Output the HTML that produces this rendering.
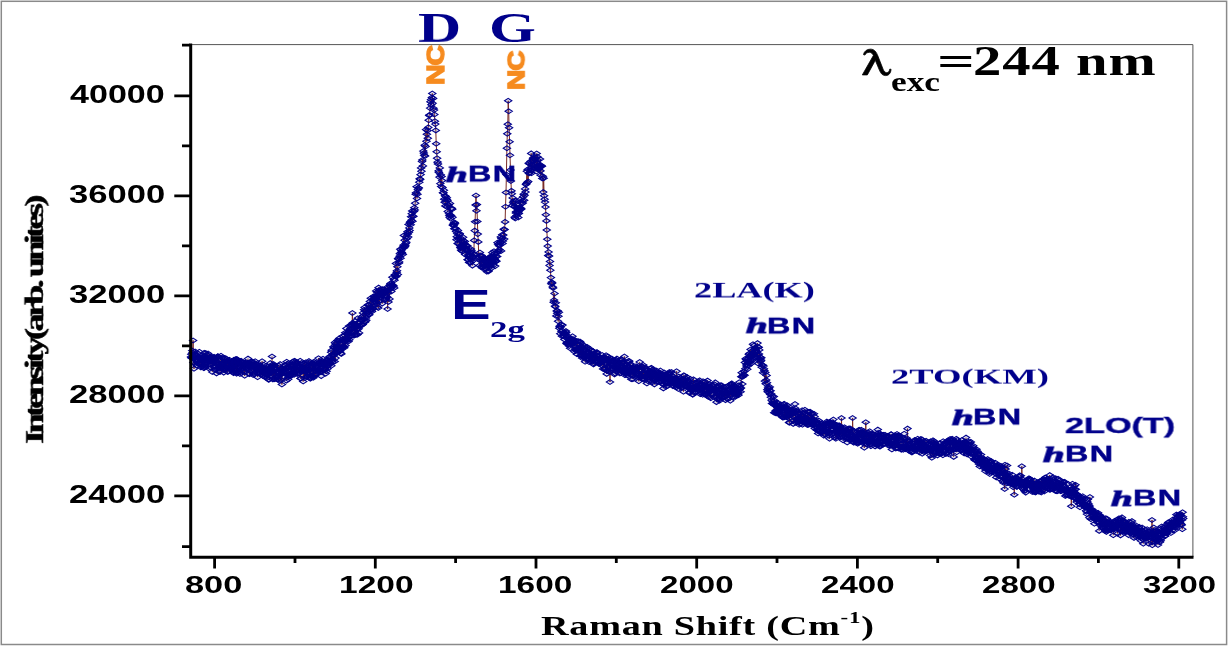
<!DOCTYPE html>
<html><head><meta charset="utf-8"><title>Raman spectrum</title>
<style>
html,body{margin:0;padding:0;background:#fff;}
body{width:1228px;height:646px;position:relative;overflow:hidden;font-family:"Liberation Sans",sans-serif;}
svg{position:absolute;left:0;top:0;}
.t{will-change:transform;position:absolute;white-space:nowrap;line-height:1;transform-origin:0 0;margin:0;padding:0;}
.sans{font-family:"Liberation Sans",sans-serif;font-weight:bold;}
.serif{font-family:"Liberation Serif",serif;font-weight:bold;}
.navy{color:#00008b;}
.blk{color:#000;}
.org{color:#f68b1f;}
</style></head><body>
<svg width="1228" height="646" viewBox="0 0 1228 646">
<rect x="0" y="0" width="1228" height="646" fill="#fff"/>
<!-- outer border -->
<rect x="1.3" y="1.3" width="1225.3" height="643.2" fill="none" stroke="#8a8a8a" stroke-width="1.5"/>
<!-- plot frame (top/right thin) -->
<path d="M190 44.6H1192.9V557" fill="none" stroke="#555" stroke-width="1"/>
<!-- data -->
<defs><marker id="d" markerUnits="userSpaceOnUse" markerWidth="10" markerHeight="8" refX="5" refY="4" orient="0">
<path d="M1.3 4L5 1.6L8.7 4L5 6.4z" fill="#00008b" fill-opacity="0.12" stroke="#00008b" stroke-width="1.05"/></marker></defs>
<path d="M192.8 357.3L193.1 340.5L193.4 362.4L193.7 355.7L194 368.8L194.3 356.6L194.6 354.8L194.9 364L195.2 351.5M197.3 365.5L197.6 353.4L197.9 363.3M200.6 357.3L200.9 367.4M201.8 366.5L202.1 357.5M203.3 365.1L203.6 356L203.9 368.3L204.2 352.9L204.5 367.4M205.4 363.5L205.7 353.1M208.1 353.5L208.4 368.1M210.8 356.3L211.1 367.7M212.3 372L212.6 361M216.2 361.1L216.5 373.4M218 356.3L218.3 367.5M219.8 360.3L220.1 372M220.7 368.3L221 355.7M223.4 362.2L223.7 372.6L224 362.7M224.9 358L225.2 369.9M227 361.3L227.3 371.8L227.6 361L227.9 372M233.6 373.1L233.9 359.9L234.2 371.4L234.5 360.4M235.4 359.3L235.7 369.1M236.3 359L236.6 373.7L236.9 372.9L237.2 359.2L237.5 372.1L237.8 360.2M241.1 360.7L241.4 369.7M243.8 362.4L244.1 372L244.4 365.6L244.7 375.8L245 366.3M247.7 368.8L248 358.6M248.9 373.4L249.2 363.1L249.5 374.3M252.8 361.8L253.1 374.9M257.3 364.6L257.6 377.2M261.8 370.8L262.1 361.3L262.4 374.4M266.6 365.7L266.9 377.9M269 379.6L269.3 369.4M269.9 373.8L270.2 363.1M272 356.5L272.3 370.6L272.6 367.3L272.9 379.4L273.2 366.4L273.5 364L273.8 377.9L274.1 365.9L274.4 365.4L274.7 379.3L275 369.8M278.6 375.6L278.9 365.7L279.2 380.7M280.1 364.1L280.4 374.5M281 369.4L281.3 380L281.6 374L281.9 384.5L282.2 373.4M286.4 380.6L286.7 361.7M288.2 379.2L288.5 363.2M291.2 365L291.5 375.8M293 361.5L293.3 372.7M294.2 374.8L294.5 360.7M295.4 372.3L295.7 361.5M296.6 372.7L296.9 362.4L297.2 374M300.2 360.7L300.5 378.4L300.8 378.5L301.1 368.2M302.9 369.2L303.2 381.5L303.5 371.3M304.4 363.6L304.7 378L305 364.8M305.6 372.1L305.9 362.2M306.8 376.6L307.1 367.4L307.4 376.6M308.6 373.7L308.9 361.1L309.2 362.5L309.5 378.3M311 375.9L311.3 365.9M312.8 362.7L313.1 376.7L313.4 377.7L313.7 364.9M314.6 364.4L314.9 374.4L315.2 375.7L315.5 362.7L315.8 374.2M318.2 369.6L318.5 358.2L318.8 370.2M325.4 364.1L325.7 373.6L326 360.8M326.6 371.3L326.9 359.6M330.8 363.7L331.1 352.2L331.4 365.8L331.7 350.3M333.2 355.7L333.5 346.6M334.4 347.8L334.7 361.5L335 342.4L335.3 343.9L335.6 358.1M337.7 343.1L338 352.2L338.3 340.9M339.5 340.7L339.8 350.7M340.7 343.7L341 353.2M342.2 347.2L342.5 336.3L342.8 346.6M344.3 347.8L344.6 335.3M345.2 332.8L345.5 345.5M346.1 340.5L346.4 328.5M348.5 341.5L348.8 331.6L349.1 326L349.4 339.7L349.7 329.7M351.5 335.9L351.8 324.3L352.1 325.5L352.4 313L352.7 328M353.9 335.6L354.2 326.4M354.8 335.1L355.1 324.1M357.5 334.6L357.8 318.2M362.7 324.6L363 312.9M363.7 319.3L364.1 309.8L364.5 307.5L364.8 322.3L365.1 311.2L365.4 321.2L365.7 310.2M368.4 305.1L368.7 314.6L369 304.9L369.3 314.8M370.5 307.5L370.8 298.3L371.1 309.2M372 311.4L372.3 299.5M373.2 306L373.5 296.4M375.9 301.5L376.2 290.9L376.5 304.5M377.1 292.1L377.4 307.1L377.7 295.7L378 291.9L378.3 308L378.6 287.6L378.9 301.4L379.2 290.1L379.5 301.2M381.9 294.4L382.2 303.6L382.5 289.5L382.8 289.3L383.1 298.6M387 296.9L387.3 287.2L387.6 309L387.9 290.7L388.2 292.9L388.5 301.9L388.8 287.8L389.1 289.9L389.5 298.9L389.8 285.7M395.6 276.4L396 263.5L396.3 276.6L396.7 272.2L397 270.8L397.4 266.7L397.8 274.6L398.1 258.4L398.5 259.1L398.8 263.2L399.2 261.9L399.6 256.3L399.9 253.8L400.3 249.2L400.6 258.2L401 252.4L401.4 250.7L401.7 252.6L402.1 253.3L402.4 248.4L402.8 254.5L403.2 246.9L403.5 245.2L403.9 235.5L404.2 247.7M408.2 237L408.6 224.4L408.9 232.2L409.3 227.9L409.6 230.6L410 222.7L410.4 221.7L410.7 224.8L411.1 216.7L411.4 220.2L411.8 213.8L412.2 211L412.5 221.2L413 216.4L413.4 216.3L413.9 211.4L414.3 207.8L414.8 210L415.2 203.3L415.7 194.3L416.1 192.7L416.6 186.7L417 198.4L417.5 194.2L417.9 189.7L418.4 187.7L418.8 188.1L419.3 182.3L419.7 178.7L420.2 179.4L420.6 174.6L421.1 167.9L421.5 171.3L422 161.5L422.4 160L422.9 165.9L423.3 151.1L423.8 153.1L424.2 155.3L424.7 145.3L425.1 155.9L425.6 146.5L426 129.6L426.5 141.3L426.9 134.3L427.4 130.6L427.8 138.2L428.3 127.4L428.7 120.2L429.2 115.5L429.6 114.9L430.1 108.1L430.5 101.8L431 99.6L431.4 104.8L431.9 97.5L432.3 93.5L432.6 103.2L433.1 98.4L433.5 108.2L434 110.1L434.4 114.5L434.9 121.3L435.3 124.1L435.8 130.4L436.2 143.8L436.7 151.7L437.1 158.2L437.6 162.1L438 163.9L438.5 171L438.9 172.4L439.4 177.1L439.8 167.9L440.3 183.6L440.7 174.8L441.2 186.5L441.6 176.5L442.1 180.6L442.5 187.6L443 192.8L443.4 192.9L443.9 190.3M445 195.8L445.3 206L445.7 196.6M447.5 200.3L447.8 211.4M449.6 217.1L450 203.4L450.4 215M457.2 233.6L457.6 243.5L457.9 230.4M459 243.9L459.4 234.4L459.7 233.6L460.1 245.8M461 250.1L461.3 238.4L461.6 250.8M462.5 251.5L462.8 241.7L463.1 237.3L463.4 247.4M464.9 241.5L465.2 254.5M467.3 245.7L467.6 259.6M470.6 262.6L470.9 249.1M472.4 265.6L472.7 256.5M473.3 257.4L473.8 254.4L474.2 240.4L474.7 230.6L475.1 221.7L475.6 205L476 195.5L476.5 210.8L476.9 204.6L477.4 221.5L477.8 234.1L478.3 241.9L478.7 257.3L479.2 260L479.6 265.5L479.9 252.5M480.8 256.3L481.1 266.6L481.4 256.5L481.7 255.6L482 266.9M485 268.8L485.3 259.5M486.8 271.6L487.1 261.7M488.6 270.7L488.9 257.6M490.1 267L490.4 256.6L490.7 265.8M491.3 268.3L491.6 259M493.7 262L494 251.3M497.2 256.5L497.5 242.6M500.8 237L501.1 250.9L501.5 238.5M502.9 241L503.3 235.1L503.7 229.2L504.2 239L504.6 229.6L505.1 221.9L505.5 206.7L506 192.5L506.4 174.6L506.9 148.2L507.3 133.8L507.8 124.2L508.2 100.8L508.7 111.2L509.1 127.8L509.6 141.8L510 155.3L510.5 170L510.9 181L511.4 190.9L511.8 193.7L512.3 205.5L512.7 197.9L513.2 202.8L513.6 201.2L514.1 206.6L514.4 203.3L514.7 217.2L515 206.3L515.3 218.5L515.6 200.5L515.9 213M520.2 199.5L520.6 209.4M522 203.6L522.4 200.5L522.8 203L523.3 196.8L523.7 194.3L524.2 200.3L524.6 195.3L525.1 188.9L525.5 192L526 184.5L526.4 183.7L526.9 171.2L527.3 182.5L527.8 169.4L528.2 181.5L528.7 163.2L529 173.5M530.8 168.1L531.2 153.4L531.5 173.3L531.9 164.2M532.8 169.2L533.1 158.3M534.3 158.9L534.6 168.6L534.9 159.3M536.4 171.5L536.7 153.5L537 162.8M537.6 159.9L537.9 168.9M540 159.1L540.4 170.9L540.7 175.2L541.1 166.3L541.4 165.5L541.9 166.2L542.3 178.4L542.8 176.3L543.2 192.1L543.7 178.3L544.1 195.7L544.6 199.2L545 202.1L545.5 207L545.9 214.7L546.4 220.9L546.8 230L547.3 239.3L547.7 246.1L548.2 255.5L548.6 252L549.1 256.1L549.5 265.5L550 261.5L550.4 270.2L550.9 277.6L551.3 283.7L551.8 282.2L552.2 283.1L552.7 286.9L553.1 287.9L553.6 302.3L554 300.1L554.5 293.5L554.9 306.1L555.4 306.7L555.8 302.7L556.3 316L556.7 310.9L557.2 313.3L557.6 310.7L558.1 321.2L558.5 316.3L558.9 312.2L559.3 328.2M566.2 332.4L566.5 343.2M574 341.9L574.3 351.6M577.3 351L577.6 341.2M580 341.6L580.3 355.5L580.6 342.8L580.9 355.4M581.5 346.4L581.8 355.8M582.7 356.2L583 344.9L583.3 354M584.8 351.1L585.1 361.7L585.4 349.7M586.3 358.6L586.6 348.5M589 362L589.3 348.7L589.6 359.2M590.8 361.6L591.1 350.6M591.7 350.3L592 361M593.2 351.4L593.5 364.4M597.1 352.2L597.4 362.1M602.8 358.2L603.1 368.9L603.4 358.1M604.3 357.3L604.6 368.2M606.1 355.3L606.4 370.4L606.7 373.9L607 364.4M607.6 366.6L607.9 356.5M608.8 371.6L609.1 359.4M609.7 358.1L610 382L610.3 361.2M614.8 373.3L615.1 361.6L615.4 359.8L615.7 369.1L616 359.9L616.3 371.6M619.6 364.3L619.9 373.5L620.2 359.8L620.5 370.8M621.7 359.4L622 369.9M622.6 371.9L622.9 361.7M624.1 372.4L624.4 356.5L624.7 367.4M626.8 372.7L627.1 362.1L627.4 375.4M630.7 364.1L631 374.9M632.5 367.6L632.8 379.1M638.2 377.1L638.5 367.5L638.8 381.3L639.1 370.6L639.4 375.1L639.7 362M641.5 376.4L641.8 366.6L642.1 379.1L642.4 366.8L642.7 378.9L643 367.1L643.3 365L643.6 374.4M647.8 370.1L648.1 381.3M649.9 377.9L650.2 368.5L650.5 380.8L650.8 371.5M652 370.2L652.3 382.3L652.6 373.2M654.1 372.3L654.4 384.4L654.7 374.7M656.2 381.9L656.5 370.6M660.4 370.5L660.7 381.2M663.4 388.4L663.7 376.2L664 384.6L664.3 372.5M668.5 373.3L668.8 382.6M671.5 372L671.8 381.1M673.3 385.5L673.6 376.4M676 377.9L676.3 387.4L676.6 371.3L676.9 383.2M678.4 389L678.7 376.6M680.5 378.1L680.8 387.6M683.5 391.8L683.8 375.3L684.1 384.5M689.8 392.4L690.1 378.7L690.4 389.5M692.8 394.8L693.1 384.1L693.4 379.4L693.7 388.5M698.2 381.2L698.5 390.5M699.4 390.5L699.7 380.4M702.7 394.7L703 381.3M704.8 394.1L705.1 381.8M706 394.5L706.3 385.4M707.2 393.4L707.5 380.6L707.8 384.5L708.1 396.8L708.4 386.4M709.6 384.3L709.9 397.2M710.5 387.6L710.8 398.2L711.1 388.1M714.1 397L714.4 384.4M716.2 388.9L716.5 402.1L716.8 391.8M719.2 386L719.5 400.7M721.6 385.2L721.9 395.8M724.9 397L725.2 387.9L725.5 400.1M730.3 400.7L730.6 390.9L730.9 395L731.2 384M731.8 383.4L732.1 393.3M733 387.6L733.3 397.1M741 388.1L741.3 376.8M744.6 375.3L744.9 362.4L745.3 368.6L745.7 358.6M748.5 365.6L748.8 354.2L749.1 363L749.4 353.5M750.3 360.4L750.6 349.5M751.2 363.4L751.5 354M754.2 345.5L754.5 357.5M757.2 357.5L757.5 343.1L757.8 354.6L758.1 363.5L758.4 347.2M759.3 349.9L759.6 359.4M761.4 357.8L761.7 367.2L762.1 365.2L762.6 365L763 372.7L763.5 366.1L763.9 368.7L764.4 370.5L764.8 381.1L765.3 372.4L765.7 383.8L766.2 380.1L766.6 375.4L767 382.8L767.3 389.7L767.7 391.8L768 387.1L768.4 388.8L768.8 388.5L769.1 392.8L769.5 390.8M773.8 396.6L774.2 412.7M774.9 400.7L775.2 412.1M776.7 412.7L777 402.6M782.1 407L782.4 417.1M784.2 403.8L784.5 417.3L784.8 406.9M786.9 417.2L787.2 405.3M789 422.4L789.3 407L789.6 422.8L789.9 410.5M792.9 413L793.2 423.9M793.8 409.6L794.1 420.4M795.6 410.5L795.9 422.7M798.6 412.5L798.9 422.2L799.2 424.7L799.5 413.8M800.1 423.7L800.4 413.4M802.2 410.2L802.5 424.8M803.1 412.8L803.4 422M804.9 409.8L805.2 422.8M807.3 425L807.6 411.7L807.9 424.7M808.5 412.3L808.8 424.8L809.1 411.9M810 421.2L810.3 411.9M810.9 413.9L811.2 424.6M811.8 413.4L812.1 422.6M814.5 416.6L814.8 428.4M818.4 429.6L818.7 420.6M823.8 435.6L824.1 424.8M824.7 424.7L825 434.7M828.3 433.3L828.6 423.9L828.9 435.8L829.2 422.4L829.5 438.7L829.8 422L830.1 432.8M833.4 419.5L833.7 432.7M835.8 438.7L836.1 427.9L836.4 436.4L836.7 425.1M839.4 425.9L839.7 436.9M841.2 429.3L841.5 418L841.8 435.9M848.4 428.6L848.7 438.6M849.9 428.4L850.2 440.1L850.5 429M852.3 438.8L852.6 418L852.9 430.3L853.2 441.9M853.8 442.8L854.1 431.1M857.7 443.8L858 433.5L858.3 440.6L858.6 430.4L858.9 442.6L859.2 429.8M864 433.8L864.3 447.8L864.6 433M865.5 434.5L865.8 422.3L866.1 441.3M867.6 433L867.9 442.2L868.2 432.4M869.7 431.3L870 444.5M877.2 445.4L877.5 433.2M879 432.9L879.3 443.5M883.2 444.5L883.5 434.9M888 435.9L888.3 445.5M890.7 445.1L891 434.2L891.3 434.3L891.6 443.7M894.6 435.7L894.9 445.2L895.2 435.3L895.5 448.5M896.7 448.2L897 434M898.2 435.7L898.5 448.4L898.8 435.2M900.9 439.8L901.2 449.6M903.3 449.7L903.6 438.5M906.6 448.8L906.9 438.3L907.2 448.7L907.5 428.6L907.8 440.9M914.7 440L915 449.1M917.7 438.8L918 448.1M919.2 441L919.5 452.5L919.8 441.8M920.7 439L921 448.3M921.9 439.4L922.2 453.8M926.1 440.8L926.4 451.1M930.3 455.4L930.6 441.2M931.8 457.8L932.1 448.6M932.7 451.6L933 440.4L933.3 455L933.6 445.9M937.5 455.4L937.8 445.5M942.9 455.2L943.2 441.3L943.5 450.3M945.6 444.4L945.9 453.9M946.5 453.1L946.8 442.5M948 440.6L948.3 452.6M949.5 441.1L949.8 450.4L950.1 439L950.4 450.6M952.2 438.8L952.5 449.3M953.4 442.5L953.7 456.9M956.4 438.8L956.7 452.3M963.9 442.4L964.2 453.5L964.5 441.8M965.7 451L966 437.6M968.7 441.9L969 452.8M970.5 453.7L970.8 441.9L971.1 453.6M974.1 450.1L974.4 459.1M978.6 453.6L978.9 463.9M987.6 459.1L987.9 470.5M989.7 474L990 461.6M991.2 471.5L991.5 461.2M996.3 477.4L996.6 465.4M999 467.5L999.3 478.6M1002.3 470.2L1002.6 480.9M1003.2 473.6L1003.5 482.8L1003.8 472.8M1004.4 473.6L1004.7 489L1005 464.8L1005.3 479.9L1005.6 469.1M1006.8 483.5L1007.1 465.5L1007.4 479.2M1008.6 482.9L1008.9 473.5M1012.2 474.8L1012.5 484.6M1014 484.4L1014.3 494.8L1014.6 479M1020.9 475.8L1021.2 486L1021.5 484.3L1021.8 466.3L1022.1 479.1M1024.2 481.7L1024.5 490.8L1024.8 481L1025.1 490.8M1034.1 490.9L1034.4 480.6L1034.7 489.7M1040.1 481.1L1040.4 491.8M1041.3 492.5L1041.6 480.4M1044 479.7L1044.3 491.5M1049.1 479.9L1049.4 489.7L1049.7 475.1L1050 488.6M1055.4 490.9L1055.7 478.2M1071 489.6L1071.3 506.2L1071.6 496M1075.2 498.1L1075.5 484.8L1075.8 489.3L1076.1 498.6M1089 506.5L1089.3 517.6L1089.6 506L1089.9 497L1090.2 512.5M1090.8 519.1L1091.1 509.9M1098 512.7L1098.3 522.4M1098.9 519.7L1099.2 530.9M1100.1 515.2L1100.4 525.4M1101.9 527.1L1102.2 517.4M1105.2 531L1105.5 518.2L1105.8 528.8M1106.4 531.9L1106.7 518.6M1113.3 535.2L1113.6 522.2M1117.2 519.6L1117.5 533.6M1120.2 523L1120.5 535.4L1120.8 525.4L1121.1 518.8L1121.4 531.3M1122 517.4L1122.3 530.8M1124.4 531.9L1124.7 521.3M1128.6 535.1L1128.9 521.9L1129.2 531.6M1130.7 533L1131 522.5M1133.7 527.8L1134 537.9L1134.3 526M1142.1 527.5L1142.4 538.7M1143.3 543.7L1143.6 532.2M1148.4 531.4L1148.7 543.7M1151.7 542.2L1152 520L1152.3 545.2L1152.6 533.1M1153.5 541.5L1153.8 527.5L1154.1 538.9M1155 530L1155.3 539.1M1156.2 531.4L1156.5 541.7M1157.7 531.7L1158 545M1160.4 531.3L1160.7 540.7L1161 538.8L1161.3 528.4M1164.6 527L1164.9 536M1172.4 530.2L1172.7 519.6M1176.3 514.6L1176.6 525.9M1182 519.9L1182.3 529.3L1182.6 512.3" fill="none" stroke="#7a2b25" stroke-width="1"/>
<polyline points="191,357 191.3,354.3 191.6,357.6 191.9,358.3 192.2,350.6 192.5,352.5 192.8,357.3 193.1,340.5 193.4,362.4 193.7,355.7 194,368.8 194.3,356.6 194.6,354.8 194.9,364 195.2,351.5 195.5,355.4 195.8,360 196.1,355 196.4,359.7 196.7,361 197,357.2 197.3,365.5 197.6,353.4 197.9,363.3 198.2,361.1 198.5,360.1 198.8,358.5 199.1,358.3 199.4,351.7 199.7,357.7 200,363.8 200.3,364.4 200.6,357.3 200.9,367.4 201.2,359.6 201.5,362.5 201.8,366.5 202.1,357.5 202.4,358.9 202.7,359.8 203,356.9 203.3,365.1 203.6,356 203.9,368.3 204.2,352.9 204.5,367.4 204.8,366.9 205.1,358.9 205.4,363.5 205.7,353.1 206,357.2 206.3,362.9 206.6,362.8 206.9,360.7 207.2,355 207.5,362.2 207.8,359.6 208.1,353.5 208.4,368.1 208.7,361.6 209,359.6 209.3,364.4 209.6,357.3 209.9,358 210.2,359.9 210.5,357.3 210.8,356.3 211.1,367.7 211.4,364.7 211.7,361.5 212,363.4 212.3,372 212.6,361 212.9,357 213.2,359.9 213.5,361.8 213.8,358.5 214.1,356.9 214.4,365.8 214.7,369.6 215,367.1 215.3,359.3 215.6,358.5 215.9,364 216.2,361.1 216.5,373.4 216.8,369.1 217.1,362.5 217.4,357.2 217.7,356.4 218,356.3 218.3,367.5 218.6,364.8 218.9,371.7 219.2,368.7 219.5,360.9 219.8,360.3 220.1,372 220.4,365.3 220.7,368.3 221,355.7 221.3,363.9 221.6,366.2 221.9,368.3 222.2,363.7 222.5,357.5 222.8,366.3 223.1,358.8 223.4,362.2 223.7,372.6 224,362.7 224.3,361.6 224.6,361.8 224.9,358 225.2,369.9 225.5,368.9 225.8,367.1 226.1,358.5 226.4,361.6 226.7,368.2 227,361.3 227.3,371.8 227.6,361 227.9,372 228.2,367 228.5,365.1 228.8,368.6 229.1,362 229.4,359.8 229.7,364.6 230,367.6 230.3,366 230.6,367.5 230.9,366.4 231.2,362.5 231.5,370.3 231.8,367.7 232.1,361.1 232.4,365.6 232.7,369.2 233,363.7 233.3,372.3 233.6,373.1 233.9,359.9 234.2,371.4 234.5,360.4 234.8,360.9 235.1,363.6 235.4,359.3 235.7,369.1 236,361.6 236.3,359 236.6,373.7 236.9,372.9 237.2,359.2 237.5,372.1 237.8,360.2 238.1,366 238.4,361.6 238.7,363.7 239,367.6 239.3,365.1 239.6,368.2 239.9,373.9 240.2,372.2 240.5,364 240.8,361.4 241.1,360.7 241.4,369.7 241.7,362.1 242,365.1 242.3,368.9 242.6,365 242.9,367.7 243.2,364.5 243.5,370.6 243.8,362.4 244.1,372 244.4,365.6 244.7,375.8 245,366.3 245.3,366 245.6,362.7 245.9,364.2 246.2,363.9 246.5,368.3 246.8,368.6 247.1,363 247.4,367.8 247.7,368.8 248,358.6 248.3,363.2 248.6,369.9 248.9,373.4 249.2,363.1 249.5,374.3 249.8,367.4 250.1,366.8 250.4,366.2 250.7,363.5 251,362 251.3,361.7 251.6,364.6 251.9,366.7 252.2,365.1 252.5,369.2 252.8,361.8 253.1,374.9 253.4,373 253.7,374 254,365.4 254.3,366.6 254.6,366.3 254.9,368.2 255.2,361.3 255.5,367.7 255.8,363.7 256.1,364.8 256.4,365.9 256.7,369.7 257,372.8 257.3,364.6 257.6,377.2 257.9,373.4 258.2,364.8 258.5,366.8 258.8,372.6 259.1,368.4 259.4,371.3 259.7,370.5 260,373.1 260.3,370.2 260.6,367.1 260.9,368.1 261.2,365.9 261.5,369.5 261.8,370.8 262.1,361.3 262.4,374.4 262.7,368.5 263,376 263.3,368.8 263.6,364.7 263.9,370.4 264.2,376.8 264.5,369.2 264.8,369.6 265.1,369.7 265.4,374.6 265.7,368.9 266,374.2 266.3,367.9 266.6,365.7 266.9,377.9 267.2,374 267.5,374.4 267.8,375.3 268.1,371.5 268.4,379.6 268.7,372.1 269,379.6 269.3,369.4 269.6,370.6 269.9,373.8 270.2,363.1 270.5,367.4 270.8,373.1 271.1,375.7 271.4,371.5 271.7,365.3 272,356.5 272.3,370.6 272.6,367.3 272.9,379.4 273.2,366.4 273.5,364 273.8,377.9 274.1,365.9 274.4,365.4 274.7,379.3 275,369.8 275.3,367.8 275.6,368.7 275.9,377.6 276.2,369.5 276.5,371.5 276.8,375.7 277.1,376.2 277.4,379.3 277.7,371.3 278,379.5 278.3,373.6 278.6,375.6 278.9,365.7 279.2,380.7 279.5,372.8 279.8,370 280.1,364.1 280.4,374.5 280.7,374.3 281,369.4 281.3,380 281.6,374 281.9,384.5 282.2,373.4 282.5,368.7 282.8,372.3 283.1,370.6 283.4,376.6 283.7,369.4 284,369.5 284.3,370.1 284.6,365.6 284.9,372.8 285.2,369.4 285.5,365.2 285.8,369 286.1,373.4 286.4,380.6 286.7,361.7 287,364.1 287.3,366.8 287.6,374.7 287.9,377.1 288.2,379.2 288.5,363.2 288.8,367.1 289.1,375.5 289.4,376.2 289.7,371.3 290,369.4 290.3,374.1 290.6,369.4 290.9,366.1 291.2,365 291.5,375.8 291.8,367 292.1,372 292.4,368.6 292.7,365.8 293,361.5 293.3,372.7 293.6,373 293.9,365.9 294.2,374.8 294.5,360.7 294.8,367.8 295.1,363.4 295.4,372.3 295.7,361.5 296,363.6 296.3,366.2 296.6,372.7 296.9,362.4 297.2,374 297.5,369.2 297.8,365.6 298.1,373.8 298.4,370.1 298.7,369.9 299,373.1 299.3,368 299.6,367.2 299.9,363.8 300.2,360.7 300.5,378.4 300.8,378.5 301.1,368.2 301.4,369.6 301.7,363 302,371.6 302.3,370.1 302.6,368.3 302.9,369.2 303.2,381.5 303.5,371.3 303.8,371.3 304.1,367.2 304.4,363.6 304.7,378 305,364.8 305.3,369 305.6,372.1 305.9,362.2 306.2,369.9 306.5,370.3 306.8,376.6 307.1,367.4 307.4,376.6 307.7,373.4 308,369 308.3,375.2 308.6,373.7 308.9,361.1 309.2,362.5 309.5,378.3 309.8,369.7 310.1,373.4 310.4,378.6 310.7,377.9 311,375.9 311.3,365.9 311.6,366.2 311.9,368.1 312.2,366.9 312.5,363.4 312.8,362.7 313.1,376.7 313.4,377.7 313.7,364.9 314,361.8 314.3,370 314.6,364.4 314.9,374.4 315.2,375.7 315.5,362.7 315.8,374.2 316.1,371 316.4,373.7 316.7,367.9 317,367.1 317.3,365.3 317.6,370.5 317.9,365.5 318.2,369.6 318.5,358.2 318.8,370.2 319.1,370.7 319.4,362 319.7,365.2 320,370.5 320.3,363.9 320.6,371.4 320.9,372.2 321.2,376.1 321.5,371 321.8,362.8 322.1,364.1 322.4,361.3 322.7,361.2 323,358.7 323.3,365.3 323.6,365.1 323.9,370.7 324.2,362.1 324.5,368.1 324.8,369 325.1,369.2 325.4,364.1 325.7,373.6 326,360.8 326.3,362.8 326.6,371.3 326.9,359.6 327.2,366.6 327.5,368.7 327.8,362.4 328.1,365.3 328.4,361.3 328.7,362.2 329,363.5 329.3,361.5 329.6,356.9 329.9,356.4 330.2,360.2 330.5,357.9 330.8,363.7 331.1,352.2 331.4,365.8 331.7,350.3 332,358.7 332.3,360.6 332.6,362 332.9,354.5 333.2,355.7 333.5,346.6 333.8,347.8 334.1,353.3 334.4,347.8 334.7,361.5 335,342.4 335.3,343.9 335.6,358.1 335.9,353.5 336.2,351.4 336.5,353.3 336.8,347.3 337.1,346.4 337.4,340.4 337.7,343.1 338,352.2 338.3,340.9 338.6,347.8 338.9,346.6 339.2,338.4 339.5,340.7 339.8,350.7 340.1,350.9 340.4,347.5 340.7,343.7 341,353.2 341.3,353.9 341.6,347.2 341.9,348.4 342.2,347.2 342.5,336.3 342.8,346.6 343.1,339 343.4,347.1 343.7,341.4 344,346.3 344.3,347.8 344.6,335.3 344.9,339.2 345.2,332.8 345.5,345.5 345.8,341.4 346.1,340.5 346.4,328.5 346.7,333.9 347,338.5 347.3,339.9 347.6,332.7 347.9,333.1 348.2,337.8 348.5,341.5 348.8,331.6 349.1,326 349.4,339.7 349.7,329.7 350,336.4 350.3,333.1 350.6,328.6 350.9,325.3 351.2,329 351.5,335.9 351.8,324.3 352.1,325.5 352.4,313 352.7,328 353,322.8 353.3,323.6 353.6,329.9 353.9,335.6 354.2,326.4 354.5,332.2 354.8,335.1 355.1,324.1 355.4,321 355.7,325.3 356,326.9 356.3,334.8 356.6,326.8 356.9,329.9 357.2,328.6 357.5,334.6 357.8,318.2 358.1,323.1 358.4,322.9 358.7,328.8 359.1,332.9 359.4,325.8 359.8,322.7 360.1,325.9 360.5,319.6 360.9,320.3 361.2,324.9 361.6,317.1 361.9,319.6 362.3,324.6 362.7,324.6 363,312.9 363.4,315.5 363.7,319.3 364.1,309.8 364.5,307.5 364.8,322.3 365.1,311.2 365.4,321.2 365.7,310.2 366,318 366.3,320.2 366.6,313.2 366.9,315.8 367.2,313 367.5,313.4 367.8,309.4 368.1,304.7 368.4,305.1 368.7,314.6 369,304.9 369.3,314.8 369.6,306.2 369.9,301.5 370.2,307.6 370.5,307.5 370.8,298.3 371.1,309.2 371.4,310.5 371.7,309.6 372,311.4 372.3,299.5 372.6,302.3 372.9,308.5 373.2,306 373.5,296.4 373.8,299.3 374.1,299.7 374.4,298.4 374.7,297.9 375,297.3 375.3,295.9 375.6,302.5 375.9,301.5 376.2,290.9 376.5,304.5 376.8,296.1 377.1,292.1 377.4,307.1 377.7,295.7 378,291.9 378.3,308 378.6,287.6 378.9,301.4 379.2,290.1 379.5,301.2 379.8,294.4 380.1,291.1 380.4,297.3 380.7,297.2 381,289.8 381.3,295.4 381.6,294.8 381.9,294.4 382.2,303.6 382.5,289.5 382.8,289.3 383.1,298.6 383.4,293.3 383.7,292.1 384,294.3 384.3,292 384.6,290.8 384.9,299.6 385.2,295.8 385.5,291.2 385.8,296.3 386.1,292.3 386.4,299 386.7,291.9 387,296.9 387.3,287.2 387.6,309 387.9,290.7 388.2,292.9 388.5,301.9 388.8,287.8 389.1,289.9 389.5,298.9 389.8,285.7 390.2,284.2 390.6,283.4 390.9,288.2 391.3,291.4 391.6,285.5 392,284.6 392.4,277.3 392.7,285.5 393.1,285.6 393.4,286.1 393.8,279.3 394.2,287.9 394.5,280.2 394.9,274.8 395.2,275.4 395.6,276.4 396,263.5 396.3,276.6 396.7,272.2 397,270.8 397.4,266.7 397.8,274.6 398.1,258.4 398.5,259.1 398.8,263.2 399.2,261.9 399.6,256.3 399.9,253.8 400.3,249.2 400.6,258.2 401,252.4 401.4,250.7 401.7,252.6 402.1,253.3 402.4,248.4 402.8,254.5 403.2,246.9 403.5,245.2 403.9,235.5 404.2,247.7 404.6,240.2 405,246.6 405.3,245.2 405.7,243.4 406,236.8 406.4,242.2 406.8,238.7 407.1,233.7 407.5,231.6 407.8,234.1 408.2,237 408.6,224.4 408.9,232.2 409.3,227.9 409.6,230.6 410,222.7 410.4,221.7 410.7,224.8 411.1,216.7 411.4,220.2 411.8,213.8 412.2,211 412.5,221.2 413,216.4 413.4,216.3 413.9,211.4 414.3,207.8 414.8,210 415.2,203.3 415.7,194.3 416.1,192.7 416.6,186.7 417,198.4 417.5,194.2 417.9,189.7 418.4,187.7 418.8,188.1 419.3,182.3 419.7,178.7 420.2,179.4 420.6,174.6 421.1,167.9 421.5,171.3 422,161.5 422.4,160 422.9,165.9 423.3,151.1 423.8,153.1 424.2,155.3 424.7,145.3 425.1,155.9 425.6,146.5 426,129.6 426.5,141.3 426.9,134.3 427.4,130.6 427.8,138.2 428.3,127.4 428.7,120.2 429.2,115.5 429.6,114.9 430.1,108.1 430.5,101.8 431,99.6 431.4,104.8 431.9,97.5 432.3,93.5 432.6,103.2 433.1,98.4 433.5,108.2 434,110.1 434.4,114.5 434.9,121.3 435.3,124.1 435.8,130.4 436.2,143.8 436.7,151.7 437.1,158.2 437.6,162.1 438,163.9 438.5,171 438.9,172.4 439.4,177.1 439.8,167.9 440.3,183.6 440.7,174.8 441.2,186.5 441.6,176.5 442.1,180.6 442.5,187.6 443,192.8 443.4,192.9 443.9,190.3 444.2,199.3 444.6,202.3 445,195.8 445.3,206 445.7,196.6 446,202 446.4,199.4 446.8,197.8 447.1,206.7 447.5,200.3 447.8,211.4 448.2,205.3 448.6,204.8 448.9,213.1 449.3,215.2 449.6,217.1 450,203.4 450.4,215 450.7,218.7 451.1,215.8 451.4,208.8 451.8,208.2 452.2,209.3 452.5,217.2 452.9,225.3 453.2,224.3 453.6,225.4 454,223 454.3,228.8 454.7,222.5 455,223.8 455.4,228.2 455.8,228.5 456.1,231.5 456.5,239.6 456.8,236.8 457.2,233.6 457.6,243.5 457.9,230.4 458.3,237.7 458.6,239.3 459,243.9 459.4,234.4 459.7,233.6 460.1,245.8 460.4,247.8 460.7,247.5 461,250.1 461.3,238.4 461.6,250.8 461.9,247.6 462.2,245.5 462.5,251.5 462.8,241.7 463.1,237.3 463.4,247.4 463.7,240.7 464,244.2 464.3,243.6 464.6,244 464.9,241.5 465.2,254.5 465.5,247.4 465.8,248.8 466.1,245.5 466.4,245.9 466.7,250.6 467,249.4 467.3,245.7 467.6,259.6 467.9,256.2 468.2,259.8 468.5,254.6 468.8,255.6 469.1,262.4 469.4,258 469.7,252.8 470,255.2 470.3,262.6 470.6,262.6 470.9,249.1 471.2,252.4 471.5,250.8 471.8,259.1 472.1,261.3 472.4,265.6 472.7,256.5 473,253 473.3,257.4 473.8,254.4 474.2,240.4 474.7,230.6 475.1,221.7 475.6,205 476,195.5 476.5,210.8 476.9,204.6 477.4,221.5 477.8,234.1 478.3,241.9 478.7,257.3 479.2,260 479.6,265.5 479.9,252.5 480.2,255.5 480.5,260.3 480.8,256.3 481.1,266.6 481.4,256.5 481.7,255.6 482,266.9 482.3,267.9 482.6,260.3 482.9,260.2 483.2,262.4 483.5,259.7 483.8,266.1 484.1,266 484.4,258.1 484.7,265.5 485,268.8 485.3,259.5 485.6,261.7 485.9,268.8 486.2,265.8 486.5,263.3 486.8,271.6 487.1,261.7 487.4,259.4 487.7,265.2 488,263.1 488.3,271.4 488.6,270.7 488.9,257.6 489.2,262.5 489.5,265.5 489.8,262.6 490.1,267 490.4,256.6 490.7,265.8 491,260.9 491.3,268.3 491.6,259 491.9,256.7 492.2,252.6 492.5,256.7 492.8,261.4 493.1,257.1 493.4,265.2 493.7,262 494,251.3 494.3,258.4 494.6,253.2 494.9,259.6 495.2,266.1 495.5,261.5 495.8,256.4 496.1,261 496.4,261.3 496.8,253.3 497.2,256.5 497.5,242.6 497.9,251.5 498.2,244.2 498.6,251.1 499,245.8 499.3,249.6 499.7,244.8 500,242.2 500.4,242.9 500.8,237 501.1,250.9 501.5,238.5 501.8,238.6 502.2,234.7 502.6,243.5 502.9,241 503.3,235.1 503.7,229.2 504.2,239 504.6,229.6 505.1,221.9 505.5,206.7 506,192.5 506.4,174.6 506.9,148.2 507.3,133.8 507.8,124.2 508.2,100.8 508.7,111.2 509.1,127.8 509.6,141.8 510,155.3 510.5,170 510.9,181 511.4,190.9 511.8,193.7 512.3,205.5 512.7,197.9 513.2,202.8 513.6,201.2 514.1,206.6 514.4,203.3 514.7,217.2 515,206.3 515.3,218.5 515.6,200.5 515.9,213 516.2,211.8 516.5,215.8 516.8,207.5 517.1,208 517.4,212 517.7,209.1 518,213.1 518.3,217.5 518.6,211.7 518.9,213.5 519.2,207.5 519.5,207.2 519.8,208.3 520.2,199.5 520.6,209.4 520.9,208.2 521.3,208.9 521.6,202.3 522,203.6 522.4,200.5 522.8,203 523.3,196.8 523.7,194.3 524.2,200.3 524.6,195.3 525.1,188.9 525.5,192 526,184.5 526.4,183.7 526.9,171.2 527.3,182.5 527.8,169.4 528.2,181.5 528.7,163.2 529,173.5 529.4,172.6 529.7,164 530.1,170.1 530.5,161.4 530.8,168.1 531.2,153.4 531.5,173.3 531.9,164.2 532.2,165.5 532.5,160.5 532.8,169.2 533.1,158.3 533.4,158 533.7,160.3 534,158.6 534.3,158.9 534.6,168.6 534.9,159.3 535.2,157.2 535.5,164.9 535.8,168.4 536.1,162.7 536.4,171.5 536.7,153.5 537,162.8 537.3,156.8 537.6,159.9 537.9,168.9 538.2,168.5 538.5,165.5 538.8,166.8 539.1,168.9 539.4,167.4 539.7,165.9 540,159.1 540.4,170.9 540.7,175.2 541.1,166.3 541.4,165.5 541.9,166.2 542.3,178.4 542.8,176.3 543.2,192.1 543.7,178.3 544.1,195.7 544.6,199.2 545,202.1 545.5,207 545.9,214.7 546.4,220.9 546.8,230 547.3,239.3 547.7,246.1 548.2,255.5 548.6,252 549.1,256.1 549.5,265.5 550,261.5 550.4,270.2 550.9,277.6 551.3,283.7 551.8,282.2 552.2,283.1 552.7,286.9 553.1,287.9 553.6,302.3 554,300.1 554.5,293.5 554.9,306.1 555.4,306.7 555.8,302.7 556.3,316 556.7,310.9 557.2,313.3 557.6,310.7 558.1,321.2 558.5,316.3 558.9,312.2 559.3,328.2 559.6,326.2 560,326.7 560.3,333.7 560.7,327 561.1,324.6 561.4,331.2 561.8,336.1 562.1,330.4 562.5,325.1 562.9,332.7 563.2,335.4 563.5,336.2 563.8,333.9 564.1,333.7 564.4,339.4 564.7,332.7 565,333.5 565.3,335 565.6,334.3 565.9,331.1 566.2,332.4 566.5,343.2 566.8,343.7 567.1,343 567.4,342.8 567.7,338.1 568,344.6 568.3,339.5 568.6,336.7 568.9,342.4 569.2,346 569.5,338.8 569.8,339.9 570.1,348.3 570.4,344 570.7,339.1 571,342.4 571.3,342.7 571.6,339.1 571.9,339.8 572.2,344.1 572.5,336.3 572.8,343.1 573.1,343.1 573.4,341.4 573.7,339.2 574,341.9 574.3,351.6 574.6,346.1 574.9,340.6 575.2,349 575.5,347.2 575.8,350.6 576.1,349.6 576.4,349.2 576.7,349.6 577,354.3 577.3,351 577.6,341.2 577.9,344.3 578.2,348.8 578.5,341.4 578.8,347.7 579.1,351.1 579.4,344.9 579.7,348.3 580,341.6 580.3,355.5 580.6,342.8 580.9,355.4 581.2,347.3 581.5,346.4 581.8,355.8 582.1,358 582.4,352.1 582.7,356.2 583,344.9 583.3,354 583.6,357.4 583.9,357.4 584.2,349.5 584.5,346.1 584.8,351.1 585.1,361.7 585.4,349.7 585.7,356.9 586,352.8 586.3,358.6 586.6,348.5 586.9,346.7 587.2,351.9 587.5,354.1 587.8,359.5 588.1,351.3 588.4,356.8 588.7,360 589,362 589.3,348.7 589.6,359.2 589.9,356.5 590.2,356.9 590.5,353.8 590.8,361.6 591.1,350.6 591.4,354.4 591.7,350.3 592,361 592.3,357.7 592.6,357.9 592.9,355.8 593.2,351.4 593.5,364.4 593.8,359.8 594.1,363.5 594.4,357.5 594.7,358.3 595,354 595.3,362.3 595.6,362.2 595.9,360.8 596.2,355.5 596.5,353.1 596.8,352.2 597.1,352.2 597.4,362.1 597.7,355.8 598,359 598.3,359 598.6,361.1 598.9,356.3 599.2,364.1 599.5,359.4 599.8,362.9 600.1,363.7 600.4,362.3 600.7,359.5 601,358.2 601.3,365.1 601.6,358.2 601.9,361.5 602.2,355 602.5,362.1 602.8,358.2 603.1,368.9 603.4,358.1 603.7,357.9 604,359.1 604.3,357.3 604.6,368.2 604.9,369.2 605.2,363.6 605.5,363 605.8,358.6 606.1,355.3 606.4,370.4 606.7,373.9 607,364.4 607.3,371 607.6,366.6 607.9,356.5 608.2,361.7 608.5,365.8 608.8,371.6 609.1,359.4 609.4,367 609.7,358.1 610,382 610.3,361.2 610.6,363.2 610.9,361.8 611.2,370 611.5,361.1 611.8,358.6 612.1,365.8 612.4,368.7 612.7,360.9 613,365.3 613.3,368.8 613.6,361 613.9,366.8 614.2,366.8 614.5,374.4 614.8,373.3 615.1,361.6 615.4,359.8 615.7,369.1 616,359.9 616.3,371.6 616.6,365.2 616.9,358.6 617.2,362.9 617.5,365.4 617.8,370.3 618.1,367.4 618.4,370 618.7,362.2 619,368.5 619.3,369.9 619.6,364.3 619.9,373.5 620.2,359.8 620.5,370.8 620.8,373 621.1,364.9 621.4,362.6 621.7,359.4 622,369.9 622.3,363.3 622.6,371.9 622.9,361.7 623.2,369.7 623.5,368.9 623.8,371.8 624.1,372.4 624.4,356.5 624.7,367.4 625,375.2 625.3,373.6 625.6,372.9 625.9,368.9 626.2,365.2 626.5,369.7 626.8,372.7 627.1,362.1 627.4,375.4 627.7,371.3 628,367.3 628.3,366.7 628.6,366.1 628.9,360.7 629.2,361.8 629.5,369.4 629.8,364.5 630.1,371.6 630.4,371.3 630.7,364.1 631,374.9 631.3,379.3 631.6,374.2 631.9,375.6 632.2,369 632.5,367.6 632.8,379.1 633.1,375.6 633.4,372.4 633.7,370.8 634,368.5 634.3,370.8 634.6,369.1 634.9,371 635.2,369.1 635.5,367.8 635.8,368.2 636.1,366.2 636.4,369 636.7,372 637,366.9 637.3,367.7 637.6,375.7 637.9,375.2 638.2,377.1 638.5,367.5 638.8,381.3 639.1,370.6 639.4,375.1 639.7,362 640,369.9 640.3,370.5 640.6,369.7 640.9,376 641.2,370.9 641.5,376.4 641.8,366.6 642.1,379.1 642.4,366.8 642.7,378.9 643,367.1 643.3,365 643.6,374.4 643.9,379.7 644.2,378.8 644.5,373 644.8,373.3 645.1,367.2 645.4,375.9 645.7,368.8 646,370.7 646.3,378.3 646.6,375.4 646.9,383.5 647.2,378.2 647.5,373 647.8,370.1 648.1,381.3 648.4,375.5 648.7,372.7 649,375.3 649.3,374.3 649.6,374.4 649.9,377.9 650.2,368.5 650.5,380.8 650.8,371.5 651.1,376.3 651.4,367.9 651.7,372.7 652,370.2 652.3,382.3 652.6,373.2 652.9,369.4 653.2,375.9 653.5,378.3 653.8,378.2 654.1,372.3 654.4,384.4 654.7,374.7 655,372.9 655.3,379.3 655.6,373.7 655.9,378.2 656.2,381.9 656.5,370.6 656.8,377.3 657.1,375.3 657.4,376.5 657.7,379.5 658,375.5 658.3,372.6 658.6,377.2 658.9,373.9 659.2,381.9 659.5,375.4 659.8,377.6 660.1,375 660.4,370.5 660.7,381.2 661,373.3 661.3,378 661.6,379 661.9,376 662.2,383.5 662.5,375.1 662.8,380.1 663.1,384.4 663.4,388.4 663.7,376.2 664,384.6 664.3,372.5 664.6,380.8 664.9,374.4 665.2,375.6 665.5,379.2 665.8,382.1 666.1,386.7 666.4,383 666.7,383.9 667,375.9 667.3,378.4 667.6,386 667.9,377.5 668.2,378.4 668.5,373.3 668.8,382.6 669.1,374.6 669.4,372 669.7,373.1 670,377.9 670.3,380.4 670.6,382.3 670.9,377.8 671.2,375.9 671.5,372 671.8,381.1 672.1,381.9 672.4,382.9 672.7,378.2 673,386.3 673.3,385.5 673.6,376.4 673.9,382 674.2,379.3 674.5,384.7 674.8,380.6 675.1,384.3 675.4,382.3 675.7,380 676,377.9 676.3,387.4 676.6,371.3 676.9,383.2 677.2,385.5 677.5,379.8 677.8,385.6 678.1,384.3 678.4,389 678.7,376.6 679,378.5 679.3,383.6 679.6,385.9 679.9,384 680.2,386.3 680.5,378.1 680.8,387.6 681.1,382.5 681.4,380.5 681.7,382.7 682,387.7 682.3,380.2 682.6,379.5 682.9,380.4 683.2,383.7 683.5,391.8 683.8,375.3 684.1,384.5 684.4,375.8 684.7,379.7 685,383.5 685.3,386.4 685.6,378.8 685.9,386.6 686.2,384.1 686.5,385.7 686.8,376.9 687.1,385.8 687.4,383.6 687.7,382.5 688,380.6 688.3,380.8 688.6,380.9 688.9,388.3 689.2,384.1 689.5,392.9 689.8,392.4 690.1,378.7 690.4,389.5 690.7,386.7 691,385.1 691.3,388.7 691.6,390.6 691.9,389.5 692.2,389.3 692.5,394.4 692.8,394.8 693.1,384.1 693.4,379.4 693.7,388.5 694,388.6 694.3,392.4 694.6,387.8 694.9,382.7 695.2,386.9 695.5,388.6 695.8,385.7 696.1,388.9 696.4,387.8 696.7,389.2 697,389 697.3,391.3 697.6,382.8 697.9,382.3 698.2,381.2 698.5,390.5 698.8,389.9 699.1,390 699.4,390.5 699.7,380.4 700,388.5 700.3,394.2 700.6,389.8 700.9,383.2 701.2,384.9 701.5,385.6 701.8,393.2 702.1,387.9 702.4,386.1 702.7,394.7 703,381.3 703.3,387 703.6,387.8 703.9,385.4 704.2,387.1 704.5,394.3 704.8,394.1 705.1,381.8 705.4,390.1 705.7,389.1 706,394.5 706.3,385.4 706.6,386.7 706.9,390.7 707.2,393.4 707.5,380.6 707.8,384.5 708.1,396.8 708.4,386.4 708.7,391.7 709,388.2 709.3,391.2 709.6,384.3 709.9,397.2 710.2,389.7 710.5,387.6 710.8,398.2 711.1,388.1 711.4,394.3 711.7,393.2 712,393.6 712.3,385.2 712.6,385.4 712.9,390.5 713.2,388.4 713.5,394.4 713.8,389.7 714.1,397 714.4,384.4 714.7,388.5 715,390.6 715.3,382.4 715.6,391 715.9,396.7 716.2,388.9 716.5,402.1 716.8,391.8 717.1,386.8 717.4,394.5 717.7,399.5 718,398.1 718.3,392.4 718.6,386.9 718.9,392.2 719.2,386 719.5,400.7 719.8,399.1 720.1,393.1 720.4,385.3 720.7,388.8 721,396.3 721.3,388.8 721.6,385.2 721.9,395.8 722.2,398.2 722.5,393.7 722.8,393.3 723.1,387 723.4,393.3 723.7,389 724,390.9 724.3,390.5 724.6,397.1 724.9,397 725.2,387.9 725.5,400.1 725.8,395.3 726.1,386.8 726.4,393.9 726.7,392.3 727,392.9 727.3,390.2 727.6,399.2 727.9,393.4 728.2,398.8 728.5,393.6 728.8,393 729.1,389.5 729.4,388.7 729.7,384.8 730,391.9 730.3,400.7 730.6,390.9 730.9,395 731.2,384 731.5,384.8 731.8,383.4 732.1,393.3 732.4,387.3 732.7,392.6 733,387.6 733.3,397.1 733.6,388.6 733.9,389.3 734.2,385.2 734.5,391.8 734.8,389.9 735.1,397 735.4,394.4 735.7,387.1 736,396 736.3,392.4 736.6,390 736.9,393.7 737.2,390.4 737.5,388.6 737.8,394.2 738.1,392.7 738.4,395.1 738.7,391 739,385.2 739.3,382.2 739.6,389.4 739.9,386.9 740.3,388.3 740.6,391.8 741,388.1 741.3,376.8 741.7,372.8 742.1,376.7 742.4,384 742.8,376.8 743.1,375.5 743.5,374.5 743.9,371.2 744.2,371.6 744.6,375.3 744.9,362.4 745.3,368.6 745.7,358.6 746,359.6 746.4,365.9 746.7,364.5 747,361.3 747.3,369.2 747.6,363.3 747.9,359.1 748.2,360.6 748.5,365.6 748.8,354.2 749.1,363 749.4,353.5 749.7,361.5 750,355.9 750.3,360.4 750.6,349.5 750.9,355.9 751.2,363.4 751.5,354 751.8,356.4 752.1,360.6 752.4,354.2 752.7,350.5 753,344.3 753.3,352.5 753.6,355.9 753.9,353.6 754.2,345.5 754.5,357.5 754.8,349.1 755.1,348.2 755.4,350.5 755.7,347.8 756,350.7 756.3,356.2 756.6,352 756.9,354.8 757.2,357.5 757.5,343.1 757.8,354.6 758.1,363.5 758.4,347.2 758.7,347.3 759,354 759.3,349.9 759.6,359.4 759.9,358.5 760.2,361.7 760.5,357.2 760.8,360 761.1,360.7 761.4,357.8 761.7,367.2 762.1,365.2 762.6,365 763,372.7 763.5,366.1 763.9,368.7 764.4,370.5 764.8,381.1 765.3,372.4 765.7,383.8 766.2,380.1 766.6,375.4 767,382.8 767.3,389.7 767.7,391.8 768,387.1 768.4,388.8 768.8,388.5 769.1,392.8 769.5,390.8 769.8,386.9 770.2,394.4 770.6,390.7 770.9,397.3 771.3,394.1 771.6,400.1 772,403.5 772.4,396.2 772.7,401.6 773.1,403.5 773.4,404.1 773.8,396.6 774.2,412.7 774.5,405.1 774.9,400.7 775.2,412.1 775.5,403.7 775.8,410.5 776.1,413.4 776.4,404.9 776.7,412.7 777,402.6 777.3,407.6 777.6,410.1 777.9,407 778.2,405.9 778.5,412.6 778.8,413.4 779.1,410.4 779.4,408.3 779.7,414.8 780,414.2 780.3,412.2 780.6,404.2 780.9,408.6 781.2,410 781.5,416 781.8,408.1 782.1,407 782.4,417.1 782.7,408.8 783,417.6 783.3,411 783.6,404.5 783.9,408.2 784.2,403.8 784.5,417.3 784.8,406.9 785.1,408.2 785.4,413.6 785.7,415.5 786,409.9 786.3,416.5 786.6,417.2 786.9,417.2 787.2,405.3 787.5,408 787.8,415.1 788.1,409.9 788.4,412.9 788.7,418.1 789,422.4 789.3,407 789.6,422.8 789.9,410.5 790.2,412.5 790.5,410.9 790.8,413.2 791.1,413.7 791.4,410.4 791.7,411.5 792,410.4 792.3,410.5 792.6,414.1 792.9,413 793.2,423.9 793.5,416.5 793.8,409.6 794.1,420.4 794.4,417.2 794.7,412.4 795,404 795.3,408.3 795.6,410.5 795.9,422.7 796.2,418.9 796.5,410.9 796.8,411.8 797.1,420.2 797.4,422.2 797.7,418.1 798,413.4 798.3,418.1 798.6,412.5 798.9,422.2 799.2,424.7 799.5,413.8 799.8,416.9 800.1,423.7 800.4,413.4 800.7,418.1 801,419.2 801.3,421 801.6,420.7 801.9,418.7 802.2,410.2 802.5,424.8 802.8,416.1 803.1,412.8 803.4,422 803.7,419.3 804,413.2 804.3,420.8 804.6,418.8 804.9,409.8 805.2,422.8 805.5,417.2 805.8,419.7 806.1,418.3 806.4,419.3 806.7,423.5 807,420.7 807.3,425 807.6,411.7 807.9,424.7 808.2,419.9 808.5,412.3 808.8,424.8 809.1,411.9 809.4,416.3 809.7,420.1 810,421.2 810.3,411.9 810.6,417.5 810.9,413.9 811.2,424.6 811.5,421.6 811.8,413.4 812.1,422.6 812.4,424.2 812.7,423.6 813,421.2 813.3,419.1 813.6,421.5 813.9,413.7 814.2,420.8 814.5,416.6 814.8,428.4 815.1,426.4 815.4,423.6 815.7,420.6 816,426.1 816.3,427.2 816.6,424.1 816.9,430.1 817.2,430.1 817.5,422.9 817.8,429.8 818.1,433.5 818.4,429.6 818.7,420.6 819,426.5 819.3,424.3 819.6,423.1 819.9,430.5 820.2,431.4 820.5,427.2 820.8,433 821.1,432.4 821.4,427.3 821.7,432.3 822,426.3 822.3,423.4 822.6,425.2 822.9,427.7 823.2,431.3 823.5,427.3 823.8,435.6 824.1,424.8 824.4,424.3 824.7,424.7 825,434.7 825.3,430.8 825.6,434.6 825.9,426.4 826.2,424 826.5,428.5 826.8,421.6 827.1,422.9 827.4,427.5 827.7,432.3 828,430.2 828.3,433.3 828.6,423.9 828.9,435.8 829.2,422.4 829.5,438.7 829.8,422 830.1,432.8 830.4,432.5 830.7,424.6 831,422.7 831.3,425 831.6,433.9 831.9,429.5 832.2,430.3 832.5,422.4 832.8,426.1 833.1,425.4 833.4,419.5 833.7,432.7 834,427.3 834.3,423.7 834.6,425.1 834.9,431.4 835.2,437.4 835.5,431.1 835.8,438.7 836.1,427.9 836.4,436.4 836.7,425.1 837,426.2 837.3,430.7 837.6,430.6 837.9,425.5 838.2,431.4 838.5,433.2 838.8,432.1 839.1,425.2 839.4,425.9 839.7,436.9 840,429.8 840.3,434.5 840.6,427 840.9,428.8 841.2,429.3 841.5,418 841.8,435.9 842.1,430 842.4,429 842.7,434.3 843,440.3 843.3,438 843.6,431.5 843.9,428.3 844.2,432.3 844.5,427.2 844.8,433.6 845.1,433.8 845.4,430.2 845.7,433.9 846,438.6 846.3,429.8 846.6,433.2 846.9,438.4 847.2,442.5 847.5,437.6 847.8,432.8 848.1,434.2 848.4,428.6 848.7,438.6 849,439.7 849.3,433.4 849.6,430 849.9,428.4 850.2,440.1 850.5,429 850.8,436.8 851.1,435 851.4,437.2 851.7,435.2 852,436.4 852.3,438.8 852.6,418 852.9,430.3 853.2,441.9 853.5,438.8 853.8,442.8 854.1,431.1 854.4,436.6 854.7,440.9 855,439.7 855.3,438.4 855.6,432 855.9,436.3 856.2,439.5 856.5,442.9 856.8,439.7 857.1,437.2 857.4,442.4 857.7,443.8 858,433.5 858.3,440.6 858.6,430.4 858.9,442.6 859.2,429.8 859.5,435.9 859.8,438.1 860.1,433.1 860.4,433.8 860.7,432.6 861,434.2 861.3,429.8 861.6,435.5 861.9,439.4 862.2,438.8 862.5,440.5 862.8,443.1 863.1,441.4 863.4,432.8 863.7,431.1 864,433.8 864.3,447.8 864.6,433 864.9,441.2 865.2,438.9 865.5,434.5 865.8,422.3 866.1,441.3 866.4,444.3 866.7,443.9 867,440.2 867.3,437.7 867.6,433 867.9,442.2 868.2,432.4 868.5,434.9 868.8,440.5 869.1,437.6 869.4,439.8 869.7,431.3 870,444.5 870.3,435.9 870.6,444.8 870.9,446.3 871.2,443.9 871.5,439.8 871.8,440.6 872.1,433.8 872.4,434.7 872.7,434.3 873,436.6 873.3,440 873.6,442.7 873.9,440.4 874.2,438.9 874.5,434.5 874.8,442 875.1,446.4 875.4,443.7 875.7,438.1 876,442.8 876.3,442 876.6,436.2 876.9,444 877.2,445.4 877.5,433.2 877.8,429.6 878.1,435.4 878.4,434.8 878.7,441.7 879,432.9 879.3,443.5 879.6,446.5 879.9,445 880.2,446.4 880.5,441.1 880.8,435 881.1,437.4 881.4,434.7 881.7,434.7 882,440.5 882.3,441.8 882.6,441.2 882.9,437.5 883.2,444.5 883.5,434.9 883.8,439.7 884.1,438.3 884.4,443.8 884.7,440 885,434.8 885.3,440.1 885.6,438.9 885.9,442.4 886.2,436.2 886.5,437.4 886.8,441.9 887.1,440.7 887.4,440.5 887.7,442.6 888,435.9 888.3,445.5 888.6,442.9 888.9,437.1 889.2,442.4 889.5,438.1 889.8,445.5 890.1,443.6 890.4,443.8 890.7,445.1 891,434.2 891.3,434.3 891.6,443.7 891.9,449.5 892.2,440.7 892.5,442 892.8,439.1 893.1,443.8 893.4,445.2 893.7,440.1 894,440.9 894.3,440.6 894.6,435.7 894.9,445.2 895.2,435.3 895.5,448.5 895.8,444.7 896.1,444.6 896.4,444.2 896.7,448.2 897,434 897.3,439.6 897.6,436.1 897.9,437.4 898.2,435.7 898.5,448.4 898.8,435.2 899.1,440.6 899.4,438 899.7,443 900,447 900.3,446.7 900.6,440.7 900.9,439.8 901.2,449.6 901.5,446.6 901.8,449.4 902.1,447.1 902.4,443.4 902.7,447.6 903,446.6 903.3,449.7 903.6,438.5 903.9,437.9 904.2,433.7 904.5,439.7 904.8,447.1 905.1,447.4 905.4,441.9 905.7,449.3 906,447.7 906.3,446.6 906.6,448.8 906.9,438.3 907.2,448.7 907.5,428.6 907.8,440.9 908.1,440.3 908.4,442 908.7,444.5 909,449 909.3,447.9 909.6,451.2 909.9,447.2 910.2,448.1 910.5,445.6 910.8,450.3 911.1,444.1 911.4,446.3 911.7,452.2 912,452.5 912.3,451.4 912.6,446.6 912.9,449 913.2,443.6 913.5,449 913.8,449.5 914.1,441.9 914.4,443.2 914.7,440 915,449.1 915.3,440.4 915.6,449.1 915.9,446.2 916.2,451 916.5,446.7 916.8,446.4 917.1,449.4 917.4,445.1 917.7,438.8 918,448.1 918.3,443.5 918.6,447 918.9,440.2 919.2,441 919.5,452.5 919.8,441.8 920.1,447.1 920.4,445 920.7,439 921,448.3 921.3,441.5 921.6,442.9 921.9,439.4 922.2,453.8 922.5,445.1 922.8,450.8 923.1,443.8 923.4,444.6 923.7,446.3 924,446.5 924.3,452.1 924.6,450.3 924.9,441.9 925.2,449.4 925.5,451.1 925.8,446.9 926.1,440.8 926.4,451.1 926.7,450.9 927,450.1 927.3,442 927.6,450 927.9,447 928.2,444.2 928.5,449.9 928.8,447.5 929.1,445.8 929.4,450.5 929.7,443.1 930,449.2 930.3,455.4 930.6,441.2 930.9,449.3 931.2,450.1 931.5,450.6 931.8,457.8 932.1,448.6 932.4,445.7 932.7,451.6 933,440.4 933.3,455 933.6,445.9 933.9,442.5 934.2,441.2 934.5,446.9 934.8,443.7 935.1,444.8 935.4,444.3 935.7,447.6 936,449.5 936.3,453.3 936.6,448.5 936.9,446 937.2,446.5 937.5,455.4 937.8,445.5 938.1,447.8 938.4,449.6 938.7,453.5 939,453 939.3,451.3 939.6,443.2 939.9,443.7 940.2,446.6 940.5,452.8 940.8,452.4 941.1,446.2 941.4,453.6 941.7,448.1 942,448.7 942.3,446.3 942.6,447.6 942.9,455.2 943.2,441.3 943.5,450.3 943.8,447.9 944.1,447.3 944.4,452 944.7,443.9 945,443.5 945.3,442.3 945.6,444.4 945.9,453.9 946.2,447.5 946.5,453.1 946.8,442.5 947.1,442.6 947.4,441.5 947.7,442.1 948,440.6 948.3,452.6 948.6,454.1 948.9,450.9 949.2,442.8 949.5,441.1 949.8,450.4 950.1,439 950.4,450.6 950.7,449 951,440.5 951.3,439.5 951.6,447.3 951.9,440.2 952.2,438.8 952.5,449.3 952.8,445.5 953.1,443.4 953.4,442.5 953.7,456.9 954,448.2 954.3,441.6 954.6,443 954.9,444.6 955.2,449.3 955.5,449 955.8,441.8 956.1,447.3 956.4,438.8 956.7,452.3 957,449 957.3,440 957.6,443 957.9,448.3 958.2,448 958.5,448.3 958.8,442.1 959.1,445.1 959.4,448.1 959.7,448.6 960,445 960.3,443.1 960.6,450.4 960.9,444.9 961.2,449.8 961.5,445.8 961.8,440.1 962.1,447.9 962.4,443.2 962.7,443.2 963,449.9 963.3,446.7 963.6,447.8 963.9,442.4 964.2,453.5 964.5,441.8 964.8,445.5 965.1,447.4 965.4,448.4 965.7,451 966,437.6 966.3,442.6 966.6,448 966.9,453.8 967.2,454.5 967.5,447.7 967.8,451.1 968.1,449.6 968.4,448.2 968.7,441.9 969,452.8 969.3,444.5 969.6,451.1 969.9,442.6 970.2,449 970.5,453.7 970.8,441.9 971.1,453.6 971.4,456.6 971.7,449.8 972,452.7 972.3,454.2 972.6,449.2 972.9,449.1 973.2,445.7 973.5,447.6 973.8,454.4 974.1,450.1 974.4,459.1 974.7,459.2 975,460.2 975.3,451.8 975.6,458.2 975.9,460.5 976.2,457.8 976.5,449.2 976.8,457.8 977.1,457.2 977.4,451.4 977.7,453.6 978,454.7 978.3,459.5 978.6,453.6 978.9,463.9 979.2,462.3 979.5,461.2 979.8,466.5 980.1,460.6 980.4,464 980.7,459.4 981,454.6 981.3,458.8 981.6,457.9 981.9,461.5 982.2,462.1 982.5,461.1 982.8,465.3 983.1,461.5 983.4,460.9 983.7,468 984,459.4 984.3,459 984.6,465.7 984.9,467.8 985.2,471.1 985.5,463 985.8,467 986.1,463 986.4,469.1 986.7,460.4 987,465.6 987.3,467.3 987.6,459.1 987.9,470.5 988.2,461.7 988.5,469.7 988.8,463.7 989.1,469.4 989.4,472.1 989.7,474 990,461.6 990.3,460.8 990.6,462.7 990.9,469.3 991.2,471.5 991.5,461.2 991.8,468.8 992.1,472.3 992.4,465.7 992.7,464.7 993,469.9 993.3,467.5 993.6,467.8 993.9,468.7 994.2,464.9 994.5,466.7 994.8,472.9 995.1,470 995.4,462.7 995.7,468.2 996,474 996.3,477.4 996.6,465.4 996.9,471.9 997.2,467.5 997.5,469.2 997.8,464.8 998.1,467.3 998.4,473.1 998.7,466.8 999,467.5 999.3,478.6 999.6,471.7 999.9,468.3 1000.2,476.4 1000.5,473.6 1000.8,465.8 1001.1,468.3 1001.4,476.1 1001.7,467.3 1002,473.5 1002.3,470.2 1002.6,480.9 1002.9,473.3 1003.2,473.6 1003.5,482.8 1003.8,472.8 1004.1,474.8 1004.4,473.6 1004.7,489 1005,464.8 1005.3,479.9 1005.6,469.1 1005.9,472.8 1006.2,475.4 1006.5,474.5 1006.8,483.5 1007.1,465.5 1007.4,479.2 1007.7,482.1 1008,479.2 1008.3,480.3 1008.6,482.9 1008.9,473.5 1009.2,478.8 1009.5,478.9 1009.8,476.3 1010.1,482.9 1010.4,478.6 1010.7,481.5 1011,482.6 1011.3,482.7 1011.6,483.2 1011.9,482.6 1012.2,474.8 1012.5,484.6 1012.8,484 1013.1,487.1 1013.4,479.9 1013.7,479 1014,484.4 1014.3,494.8 1014.6,479 1014.9,482.1 1015.2,481.8 1015.5,482.2 1015.8,478.2 1016.1,478.3 1016.4,480.8 1016.7,486.9 1017,483.2 1017.3,486.5 1017.6,480.4 1017.9,481.5 1018.2,485.2 1018.5,482.6 1018.8,476.5 1019.1,480.1 1019.4,480.5 1019.7,475.4 1020,479.7 1020.3,481.9 1020.6,483.8 1020.9,475.8 1021.2,486 1021.5,484.3 1021.8,466.3 1022.1,479.1 1022.4,484 1022.7,488.6 1023,482.3 1023.3,484.6 1023.6,489.4 1023.9,486.1 1024.2,481.7 1024.5,490.8 1024.8,481 1025.1,490.8 1025.4,486.8 1025.7,492.6 1026,484.8 1026.3,486.2 1026.6,481.6 1026.9,482.3 1027.2,486 1027.5,484 1027.8,485.4 1028.1,488.5 1028.4,482 1028.7,479 1029,478.2 1029.3,480.6 1029.6,484.5 1029.9,479 1030.2,485.4 1030.5,479.3 1030.8,482.2 1031.1,484.1 1031.4,481.9 1031.7,486.9 1032,485.5 1032.3,492 1032.6,484.2 1032.9,486.6 1033.2,488.6 1033.5,491.6 1033.8,484.4 1034.1,490.9 1034.4,480.6 1034.7,489.7 1035,492.1 1035.3,484 1035.6,492.4 1035.9,491.5 1036.2,487.5 1036.5,486.9 1036.8,484.6 1037.1,482.2 1037.4,483.5 1037.7,485.5 1038,484.2 1038.3,482.4 1038.6,485.3 1038.9,491.6 1039.2,484.7 1039.5,483.6 1039.8,486.9 1040.1,481.1 1040.4,491.8 1040.7,489.4 1041,486.3 1041.3,492.5 1041.6,480.4 1041.9,487.3 1042.2,486.6 1042.5,490.6 1042.8,483.9 1043.1,489.9 1043.4,485.6 1043.7,486.2 1044,479.7 1044.3,491.5 1044.6,484 1044.9,480 1045.2,477.5 1045.5,477.8 1045.8,486.5 1046.1,480.5 1046.4,481.5 1046.7,479.7 1047,480.8 1047.3,478.8 1047.6,481.6 1047.9,484.8 1048.2,483.4 1048.5,488.5 1048.8,483.2 1049.1,479.9 1049.4,489.7 1049.7,475.1 1050,488.6 1050.3,489.7 1050.6,485.3 1050.9,482.7 1051.2,486.8 1051.5,488 1051.8,483.9 1052.1,481.1 1052.4,489.2 1052.7,485.5 1053,477.3 1053.3,479 1053.6,486.2 1053.9,482.1 1054.2,484.9 1054.5,486.7 1054.8,487 1055.1,482.8 1055.4,490.9 1055.7,478.2 1056,481.7 1056.3,485 1056.6,491.3 1056.9,486.9 1057.2,487.5 1057.5,491.3 1057.8,482.5 1058.1,478.7 1058.4,487 1058.7,483.1 1059,490 1059.3,487.7 1059.6,480.3 1059.9,487.7 1060.2,485 1060.5,491.1 1060.8,486.6 1061.1,483.8 1061.4,489.8 1061.7,491 1062,483 1062.3,489.3 1062.6,481.9 1062.9,490 1063.2,484.9 1063.5,486.3 1063.8,482.1 1064.1,490.7 1064.4,486.6 1064.7,481.9 1065,490.8 1065.3,495.9 1065.6,491.8 1065.9,489.2 1066.2,495.1 1066.5,489 1066.8,490.4 1067.1,495.3 1067.4,489.1 1067.7,491.9 1068,483.9 1068.3,489.9 1068.6,490.7 1068.9,495.7 1069.2,490.3 1069.5,492.7 1069.8,492.3 1070.1,492.3 1070.4,494.7 1070.7,496.1 1071,489.6 1071.3,506.2 1071.6,496 1071.9,497.3 1072.2,489.7 1072.5,483.8 1072.8,491.1 1073.1,488.7 1073.4,493.1 1073.7,494.6 1074,492.8 1074.3,486 1074.6,492.3 1074.9,489.4 1075.2,498.1 1075.5,484.8 1075.8,489.3 1076.1,498.6 1076.4,493.9 1076.7,502 1077,494.3 1077.3,500.4 1077.6,499.5 1077.9,495.9 1078.2,499.6 1078.5,499.7 1078.8,495.9 1079.1,498 1079.4,504.3 1079.7,504 1080,507.3 1080.3,500.8 1080.6,502.5 1080.9,497.2 1081.2,502.2 1081.5,500.6 1081.8,502.3 1082.1,499.9 1082.4,497.8 1082.7,496.2 1083,503.5 1083.3,503.6 1083.6,504 1083.9,505.4 1084.2,499 1084.5,506.9 1084.8,503.9 1085.1,506.9 1085.4,506.2 1085.7,505.1 1086,510.6 1086.3,504.8 1086.6,511.7 1086.9,514.1 1087.2,506.7 1087.5,502.1 1087.8,499.5 1088.1,506.8 1088.4,508.9 1088.7,504.1 1089,506.5 1089.3,517.6 1089.6,506 1089.9,497 1090.2,512.5 1090.5,512.4 1090.8,519.1 1091.1,509.9 1091.4,510.8 1091.7,511.8 1092,509.2 1092.3,510.3 1092.6,512.2 1092.9,511.9 1093.2,518.1 1093.5,517.6 1093.8,513.5 1094.1,514.9 1094.4,523.7 1094.7,518.7 1095,519.2 1095.3,511.7 1095.6,517.6 1095.9,513.8 1096.2,519.1 1096.5,517.8 1096.8,519.4 1097.1,522.2 1097.4,514.9 1097.7,514 1098,512.7 1098.3,522.4 1098.6,515.2 1098.9,519.7 1099.2,530.9 1099.5,522.6 1099.8,519.1 1100.1,515.2 1100.4,525.4 1100.7,519.6 1101,517.6 1101.3,518.3 1101.6,524.5 1101.9,527.1 1102.2,517.4 1102.5,522 1102.8,524.8 1103.1,519.2 1103.4,527.7 1103.7,523.7 1104,526.3 1104.3,520.3 1104.6,523.9 1104.9,529.7 1105.2,531 1105.5,518.2 1105.8,528.8 1106.1,530.3 1106.4,531.9 1106.7,518.6 1107,526.7 1107.3,523.6 1107.6,530.6 1107.9,524.1 1108.2,522.5 1108.5,523.8 1108.8,524.2 1109.1,528.6 1109.4,523.1 1109.7,528.3 1110,523 1110.3,521.6 1110.6,524.7 1110.9,530.4 1111.2,529.2 1111.5,522.7 1111.8,523.9 1112.1,528.8 1112.4,525.7 1112.7,523.6 1113,528 1113.3,535.2 1113.6,522.2 1113.9,528.7 1114.2,529.4 1114.5,527.9 1114.8,520.7 1115.1,524.7 1115.4,521.9 1115.7,527.2 1116,524.2 1116.3,527.4 1116.6,524.8 1116.9,528.3 1117.2,519.6 1117.5,533.6 1117.8,525.3 1118.1,525.4 1118.4,522 1118.7,524.2 1119,518.4 1119.3,520.2 1119.6,528.5 1119.9,520.5 1120.2,523 1120.5,535.4 1120.8,525.4 1121.1,518.8 1121.4,531.3 1121.7,525.3 1122,517.4 1122.3,530.8 1122.6,525.9 1122.9,523.4 1123.2,521 1123.5,525.7 1123.8,525.2 1124.1,526.5 1124.4,531.9 1124.7,521.3 1125,522.6 1125.3,530.6 1125.6,531.9 1125.9,526.4 1126.2,529.1 1126.5,523.7 1126.8,530.2 1127.1,526.2 1127.4,526.1 1127.7,530.3 1128,530 1128.3,528 1128.6,535.1 1128.9,521.9 1129.2,531.6 1129.5,531.7 1129.8,533.1 1130.1,528.3 1130.4,526 1130.7,533 1131,522.5 1131.3,528.5 1131.6,528.6 1131.9,521.1 1132.2,525.9 1132.5,534.1 1132.8,528.4 1133.1,530.5 1133.4,532.7 1133.7,527.8 1134,537.9 1134.3,526 1134.6,532.8 1134.9,528 1135.2,527 1135.5,530.2 1135.8,525.2 1136.1,532.4 1136.4,537.1 1136.7,532.7 1137,530.5 1137.3,531.8 1137.6,536 1137.9,529.6 1138.2,533.6 1138.5,536.5 1138.8,527.7 1139.1,526.7 1139.4,531.9 1139.7,532 1140,535.3 1140.3,537.1 1140.6,536.3 1140.9,540.8 1141.2,534.2 1141.5,530.1 1141.8,531.1 1142.1,527.5 1142.4,538.7 1142.7,536.7 1143,539.6 1143.3,543.7 1143.6,532.2 1143.9,537.2 1144.2,536.3 1144.5,537.7 1144.8,533.9 1145.1,529.7 1145.4,537.8 1145.7,538.4 1146,538.9 1146.3,534.2 1146.6,536 1146.9,532.8 1147.2,529.2 1147.5,535.3 1147.8,531.2 1148.1,537.5 1148.4,531.4 1148.7,543.7 1149,534.9 1149.3,534.8 1149.6,534.2 1149.9,537.1 1150.2,536.7 1150.5,534.4 1150.8,533.7 1151.1,536.4 1151.4,534 1151.7,542.2 1152,520 1152.3,545.2 1152.6,533.1 1152.9,532.7 1153.2,535.9 1153.5,541.5 1153.8,527.5 1154.1,538.9 1154.4,537.3 1154.7,531.7 1155,530 1155.3,539.1 1155.6,537.4 1155.9,535.8 1156.2,531.4 1156.5,541.7 1156.8,536.2 1157.1,532.2 1157.4,538.4 1157.7,531.7 1158,545 1158.3,539.9 1158.6,534.5 1158.9,537.2 1159.2,533.8 1159.5,539.4 1159.8,542.2 1160.1,534.4 1160.4,531.3 1160.7,540.7 1161,538.8 1161.3,528.4 1161.6,526.5 1161.9,532.9 1162.2,537.9 1162.5,533.2 1162.8,531.4 1163.1,532.4 1163.4,531.6 1163.7,533.8 1164,533.7 1164.3,527.9 1164.6,527 1164.9,536 1165.2,535.9 1165.5,533.2 1165.8,530.3 1166.1,524.8 1166.4,531.2 1166.7,532.9 1167,532.9 1167.3,530.4 1167.6,530.7 1167.9,528.9 1168.2,522.4 1168.5,522.7 1168.8,527.2 1169.1,524.8 1169.4,528.2 1169.7,526 1170,528.2 1170.3,523.7 1170.6,529 1170.9,533 1171.2,525.8 1171.5,523.1 1171.8,522.4 1172.1,524.4 1172.4,530.2 1172.7,519.6 1173,521 1173.3,525.7 1173.6,522.6 1173.9,525.4 1174.2,525.7 1174.5,521.5 1174.8,530.3 1175.1,522.3 1175.4,525.8 1175.7,527.4 1176,523.3 1176.3,514.6 1176.6,525.9 1176.9,518 1177.2,517.2 1177.5,520.4 1177.8,520.4 1178.1,514.9 1178.4,519 1178.7,515.5 1179,518 1179.3,519.5 1179.6,522.3 1179.9,522.6 1180.2,515.6 1180.5,514.1 1180.8,515.4 1181.1,524.3 1181.4,524.2 1181.7,524.9 1182,519.9 1182.3,529.3 1182.6,512.3 1182.9,516.8 1183.2,518.4" fill="none" stroke="none" marker-start="url(#d)" marker-mid="url(#d)" marker-end="url(#d)"/>
<!-- lambda glyph -->
<g transform="translate(850,35) scale(0.11403)"><path d="M118 172C125 140 150 124 180 124C215 124 232 150 245 185L290 300C298 320 310 330 322 330C338 330 345 318 348 300L360 300C358 335 340 356 312 356C285 356 270 338 258 308L222 222L152 350L108 350L205 180C198 165 188 152 170 152C150 152 138 162 130 176Z" fill="#000" stroke="#000" stroke-width="7" stroke-linejoin="round"/></g>
<!-- axes -->
<path d="M190.7 43.5V558.5M189.2 557.2H1193.5" fill="none" stroke="#000" stroke-width="3"/>
<!-- y major ticks -->
<path d="M174.3 95.9H190M174.3 195.9H190M174.3 295.9H190M174.3 395.9H190M174.3 495.9H190" stroke="#000" stroke-width="2.8" fill="none"/>
<!-- y minor ticks -->
<path d="M182 45.2H190M182 145.9H190M182 245.9H190M182 345.9H190M182 445.9H190M182 546.6H190" stroke="#000" stroke-width="2.8" fill="none"/>
<!-- x major ticks -->
<path d="M214.6 557V568.5M375.3 557V568.5M536 557V568.5M696.7 557V568.5M857.4 557V568.5M1018.1 557V568.5M1178.8 557V568.5" stroke="#000" stroke-width="2.8" fill="none"/>
<!-- x minor ticks -->
<path d="M295 557V563M455.6 557V563M616.3 557V563M777 557V563M937.7 557V563M1098.4 557V563" stroke="#000" stroke-width="2.8" fill="none"/>
</svg>
<div class="t sans blk" style="left:69.80px;top:81.60px;font-size:25px;transform:scale(1.3623,1.0000);">40000</div>
<div class="t sans blk" style="left:68.80px;top:181.60px;font-size:25px;transform:scale(1.3824,1.0000);">36000</div>
<div class="t sans blk" style="left:68.80px;top:281.60px;font-size:25px;transform:scale(1.3824,1.0000);">32000</div>
<div class="t sans blk" style="left:68.80px;top:381.60px;font-size:25px;transform:scale(1.3824,1.0000);">28000</div>
<div class="t sans blk" style="left:68.80px;top:481.60px;font-size:25px;transform:scale(1.3824,1.0000);">24000</div>
<div class="t sans blk" style="left:185.30px;top:573.45px;font-size:24px;transform:scale(1.4321,1.0178);">800</div>
<div class="t sans blk" style="left:338.70px;top:573.45px;font-size:24px;transform:scale(1.3966,1.0178);">1200</div>
<div class="t sans blk" style="left:497.55px;top:573.45px;font-size:24px;transform:scale(1.3908,1.0178);">1600</div>
<div class="t sans blk" style="left:660.40px;top:573.45px;font-size:24px;transform:scale(1.3770,1.0178);">2000</div>
<div class="t sans blk" style="left:820.80px;top:573.45px;font-size:24px;transform:scale(1.3770,1.0178);">2400</div>
<div class="t sans blk" style="left:982.00px;top:573.45px;font-size:24px;transform:scale(1.3770,1.0178);">2800</div>
<div class="t sans blk" style="left:1143.20px;top:573.45px;font-size:24px;transform:scale(1.3703,1.0178);">3200</div>
<div class="t serif navy" style="left:418.10px;top:6.90px;font-size:42px;transform:scale(1.4231,0.9932);">D</div>
<div class="t serif navy" style="left:488.50px;top:6.15px;font-size:42px;transform:scale(1.4341,1.0182);">G</div>
<div class="t sans org" style="left:423.85px;top:85.15px;font-size:24px;transform:rotate(-90deg) scale(1.1908,0.9955);letter-spacing:-1px;"><span style="-webkit-text-stroke:1.3px #f68b1f;">NC</span></div>
<div class="t sans org" style="left:505.05px;top:89.75px;font-size:24px;transform:rotate(-90deg) scale(1.1725,0.9632);letter-spacing:-1px;"><span style="-webkit-text-stroke:1.3px #f68b1f;">NC</span></div>
<div class="t serif blk" style="left:890.95px;top:69.00px;font-size:27px;transform:scale(1.3085,1.0000);">exc</div>
<div class="t serif blk" style="left:937.35px;top:39.50px;font-size:41px;transform:scale(1.6179,1.0203);">=</div>
<div class="t serif blk" style="left:972.65px;top:40.95px;font-size:41px;transform:scale(1.3825,1.0067);letter-spacing:0.7px;">244 nm</div>
<div class="t serif navy" style="left:445.95px;top:162.85px;font-size:24px;transform:scale(1.6245,0.9398);font-style:italic;-webkit-text-stroke:1.0px #00008b;">h</div>
<div class="t sans navy" style="left:467.60px;top:163.15px;font-size:24px;transform:scale(1.3478,0.9218);letter-spacing:1px;-webkit-text-stroke:0.55px #00008b;">BN</div>
<div class="t serif navy" style="left:745.55px;top:314.25px;font-size:24px;transform:scale(1.6245,0.9398);font-style:italic;-webkit-text-stroke:1.0px #00008b;">h</div>
<div class="t sans navy" style="left:767.20px;top:314.55px;font-size:24px;transform:scale(1.3478,0.9218);letter-spacing:1px;-webkit-text-stroke:0.55px #00008b;">BN</div>
<div class="t serif navy" style="left:951.95px;top:405.85px;font-size:24px;transform:scale(1.6245,0.9398);font-style:italic;-webkit-text-stroke:1.0px #00008b;">h</div>
<div class="t sans navy" style="left:972.60px;top:406.15px;font-size:24px;transform:scale(1.3478,0.9218);letter-spacing:1px;-webkit-text-stroke:0.55px #00008b;">BN</div>
<div class="t serif navy" style="left:1043.35px;top:443.05px;font-size:24px;transform:scale(1.6245,0.9398);font-style:italic;-webkit-text-stroke:1.0px #00008b;">h</div>
<div class="t sans navy" style="left:1065.00px;top:443.35px;font-size:24px;transform:scale(1.3478,0.9218);letter-spacing:1px;-webkit-text-stroke:0.55px #00008b;">BN</div>
<div class="t serif navy" style="left:1111.15px;top:486.85px;font-size:24px;transform:scale(1.6245,0.9398);font-style:italic;-webkit-text-stroke:1.0px #00008b;">h</div>
<div class="t sans navy" style="left:1132.80px;top:487.15px;font-size:24px;transform:scale(1.3478,0.9218);letter-spacing:1px;-webkit-text-stroke:0.55px #00008b;">BN</div>
<div class="t sans navy" style="left:450.90px;top:283.40px;font-size:40px;transform:scale(1.4876,1.0507);">E</div>
<div class="t serif navy" style="left:490.00px;top:319.30px;font-size:21px;transform:scale(1.6604,1.0845);">2g</div>
<div class="t serif navy" style="left:693.85px;top:278.00px;font-size:24px;transform:scale(1.5116,0.9717);">2LA(K)</div>
<div class="t serif navy" style="left:891.25px;top:364.55px;font-size:24px;transform:scale(1.5245,0.9261);">2TO(KM)</div>
<div class="t sans navy" style="left:1065.25px;top:416.05px;font-size:23px;transform:scale(1.4864,0.8921);-webkit-text-stroke:0.4px #00008b;">2LO(T)</div>
<div class="t serif blk" style="left:541.20px;top:614.10px;font-size:26px;transform:scale(1.4690,1.0100);letter-spacing:0.5px;">Raman Shift (Cm<span style="font-size:0.6em;position:relative;top:-0.76em;">-1</span>)</div>
<div class="t serif blk" style="left:20.50px;top:443.90px;font-size:30px;transform:rotate(-90deg) scale(1.2049,0.8829);letter-spacing:-3px;-webkit-text-stroke:0.55px #000;">Intensity(arb. unites)</div>
</body></html>
